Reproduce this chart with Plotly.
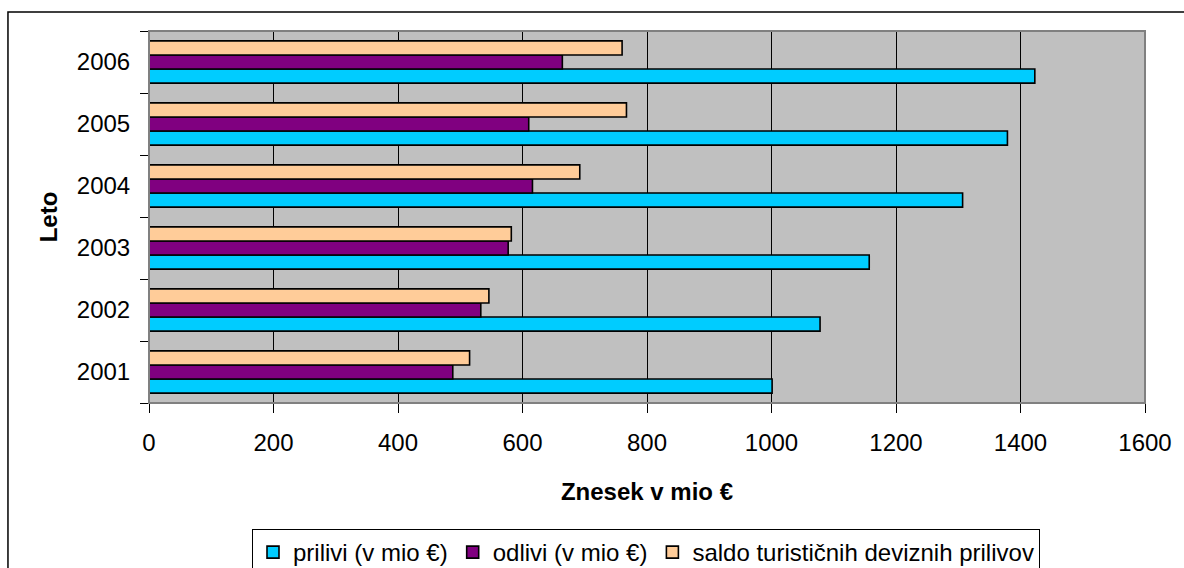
import plotly.graph_objects as go

# Yearly tourism foreign-exchange flows (million EUR)
leta = ["2001", "2002", "2003", "2004", "2005", "2006"]
prilivi = [1001, 1078, 1157, 1307, 1379, 1423]
odlivi = [488, 533, 577, 616, 610, 664]
saldo = [515, 546, 582, 692, 767, 760]

FONT = "Liberation Sans, Arial, sans-serif"
OUTLINE = dict(color="black", width=1.6)

fig = go.Figure()
fig.add_trace(go.Bar(name="prilivi (v mio €)", y=leta, x=prilivi, orientation="h",
                     marker=dict(color="#00CCFF", line=OUTLINE)))
fig.add_trace(go.Bar(name="odlivi (v mio €)", y=leta, x=odlivi, orientation="h",
                     marker=dict(color="#800080", line=OUTLINE)))
fig.add_trace(go.Bar(name="saldo turističnih deviznih prilivov", y=leta, x=saldo,
                     orientation="h", marker=dict(color="#FFCC99", line=OUTLINE)))

fig.update_layout(
    width=1184, height=568,
    margin=dict(l=149, r=39, t=31, b=165, autoexpand=False),
    paper_bgcolor="white",
    plot_bgcolor="#C0C0C0",
    barmode="group",
    bargap=0.32,
    bargroupgap=0,
    font=dict(family=FONT, size=24, color="black"),
    showlegend=True,
    legend=dict(
        orientation="h",
        xref="container", yref="container",
        x=646 / 1184, xanchor="center",
        y=1 - 529 / 568, yanchor="top",
        bgcolor="white",
        bordercolor="black",
        borderwidth=1,
        font=dict(family=FONT, size=24, color="black"),
        traceorder="normal",
        itemwidth=30,
    ),
)

fig.update_xaxes(
    range=[0, 1600],
    dtick=200,
    tick0=0,
    showgrid=True,
    gridcolor="black",
    gridwidth=1,
    showline=True,
    linecolor="black",
    linewidth=1,
    ticks="outside",
    ticklen=9,
    tickcolor="black",
    zeroline=False,
    tickfont=dict(size=24),
    ticklabelstandoff=9,
    automargin=False,
    title=dict(text="<b>Znesek v mio €</b>", font=dict(size=24), standoff=28),
)

fig.update_yaxes(
    type="category",
    showgrid=False,
    showline=True,
    linecolor="black",
    linewidth=1,
    ticks="outside",
    ticklen=8,
    tickcolor="black",
    tickson="boundaries",
    tickfont=dict(size=24),
    ticklabelstandoff=13,
    automargin=False,
    title=dict(text="<b>Leto</b>", font=dict(size=24), standoff=12),
)

# gray frame around the plotting area
fig.add_shape(type="rect", xref="paper", yref="paper", x0=0, x1=1, y0=0, y1=1,
              line=dict(color="#808080", width=2), layer="above")
# outer chart border
fig.add_shape(type="rect", xref="paper", yref="paper",
              x0=-0.1416, x1=1.2, y0=-0.6, y1=1.051,
              line=dict(color="black", width=1.5), layer="above")

fig.write_html("out.html")
